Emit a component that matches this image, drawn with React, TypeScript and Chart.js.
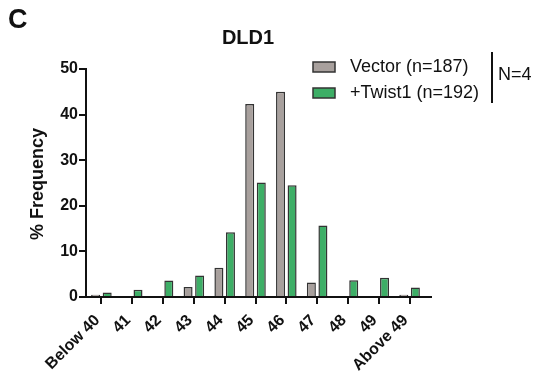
import React, { useEffect, useRef } from "react";
import { Chart, registerables } from "chart.js";

Chart.register(...registerables);

const categories = ["Below 40", "41", "42", "43", "44", "45", "46", "47", "48", "49", "Above 49"];
const vectorValues = [0.5, 0, 0, 2.2, 6.4, 42.3, 45.0, 3.2, 0, 0, 0.5];
const twistValues = [1.0, 1.6, 3.6, 4.7, 14.2, 25.1, 24.5, 15.7, 3.7, 4.2, 2.1];
const seriesLabels = ["Vector (n=187)", "+Twist1 (n=192)"];
const seriesColors = ["#A8A09D", "#3DAE66"];
const yTicks = [0, 10, 20, 30, 40, 50];
const titleText = "DLD1";
const panelLetter = "C";
const yTitleText = "% Frequency";
const nLabel = "N=4";

const FF = "'Liberation Sans', Arial, Helvetica, sans-serif";
const INK = "#111111";

const decorPlugin = {
  id: "decor",
  afterDraw(chart: any) {
    const ctx = chart.ctx as CanvasRenderingContext2D;
    const { left, right, bottom } = chart.chartArea;
    ctx.save();
    // x axis line (extends a bit beyond the category range)
    ctx.strokeStyle = INK;
    ctx.lineWidth = 2;
    ctx.beginPath();
    ctx.moveTo(left - 4, bottom);
    ctx.lineTo(right + 7, bottom);
    ctx.stroke();

    ctx.fillStyle = INK;
    // panel letter
    ctx.font = `bold 27px ${FF}`;
    ctx.textAlign = "left";
    ctx.textBaseline = "alphabetic";
    ctx.fillText(panelLetter, 8, 28);

    // title
    ctx.font = `bold 20px ${FF}`;
    ctx.textAlign = "center";
    ctx.fillText(titleText, 248, 44);

    // y title
    ctx.save();
    ctx.translate(43, 184);
    ctx.rotate(-Math.PI / 2);
    ctx.font = `bold 18px ${FF}`;
    ctx.textAlign = "center";
    ctx.textBaseline = "alphabetic";
    ctx.fillText(yTitleText, 0, 0);
    ctx.restore();

    // legend
    const rows = [67, 93];
    chart.data.datasets.forEach((ds: any, i: number) => {
      const cy = rows[i];
      ctx.fillStyle = ds.backgroundColor;
      ctx.fillRect(313, cy - 5, 22, 10);
      ctx.strokeStyle = "#333";
      ctx.lineWidth = 1.5;
      ctx.strokeRect(313, cy - 5, 22, 10);
      ctx.fillStyle = INK;
      ctx.font = `18px ${FF}`;
      ctx.textAlign = "left";
      ctx.textBaseline = "middle";
      ctx.fillText(ds.label, 350, cy + 0.5);
    });
    ctx.strokeStyle = INK;
    ctx.lineWidth = 2;
    ctx.beginPath();
    ctx.moveTo(492, 52);
    ctx.lineTo(492, 103);
    ctx.stroke();
    ctx.fillStyle = INK;
    ctx.font = `18px ${FF}`;
    ctx.textAlign = "left";
    ctx.textBaseline = "middle";
    ctx.fillText(nLabel, 498, 75);
    ctx.restore();
  },
};

export default function App() {
  const canvasRef = useRef<HTMLCanvasElement | null>(null);

  useEffect(() => {
    const canvas = canvasRef.current;
    if (!canvas) return;
    const chart = new Chart(canvas, {
      type: "bar",
      data: {
        labels: categories,
        datasets: [
          {
            label: seriesLabels[0],
            data: vectorValues,
            backgroundColor: seriesColors[0],
            borderColor: "#333333",
            borderWidth: 1.5,
            categoryPercentage: 0.75,
            barPercentage: 0.78,
          },
          {
            label: seriesLabels[1],
            data: twistValues,
            backgroundColor: seriesColors[1],
            borderColor: "#333333",
            borderWidth: 1.5,
            categoryPercentage: 0.75,
            barPercentage: 0.78,
          },
        ],
      },
      options: {
        responsive: false,
        animation: false,
        layout: { padding: { top: 69, right: 109, left: 0, bottom: 0 } },
        plugins: {
          legend: { display: false },
          tooltip: { enabled: false },
          title: { display: false },
        },
        scales: {
          x: {
            type: "category",
            offset: true,
            grid: {
              display: true,
              drawOnChartArea: false,
              drawTicks: true,
              tickLength: 7,
              offset: false,
              color: INK,
              lineWidth: 2,
            },
            border: { display: false },
            ticks: {
              autoSkip: false,
              maxRotation: 45,
              minRotation: 45,
              padding: 7,
              labelOffset: -4,
              color: INK,
              font: { family: FF, size: 16, weight: "bold" },
            },
            afterFit: (s: any) => {
              s.height = 82;
            },
          },
          y: {
            min: 0,
            max: 50,
            afterBuildTicks: (s: any) => {
              s.ticks = yTicks.map((v) => ({ value: v }));
            },
            grid: {
              drawOnChartArea: false,
              drawTicks: true,
              tickLength: 7,
              color: INK,
              lineWidth: 2,
            },
            border: { display: true, color: INK, width: 2 },
            ticks: {
              padding: 1,
              color: INK,
              font: { family: FF, size: 16, weight: "bold" },
            },
            afterFit: (s: any) => {
              s.width = 86;
            },
          },
        },
      } as any,
      plugins: [decorPlugin],
    });
    return () => chart.destroy();
  }, []);

  return (
    <div style={{ position: "absolute", left: 0, top: 0, width: 534, height: 379, background: "#fff" }}>
      <canvas ref={canvasRef} width={534} height={379} style={{ display: "block" }} />
    </div>
  );
}
